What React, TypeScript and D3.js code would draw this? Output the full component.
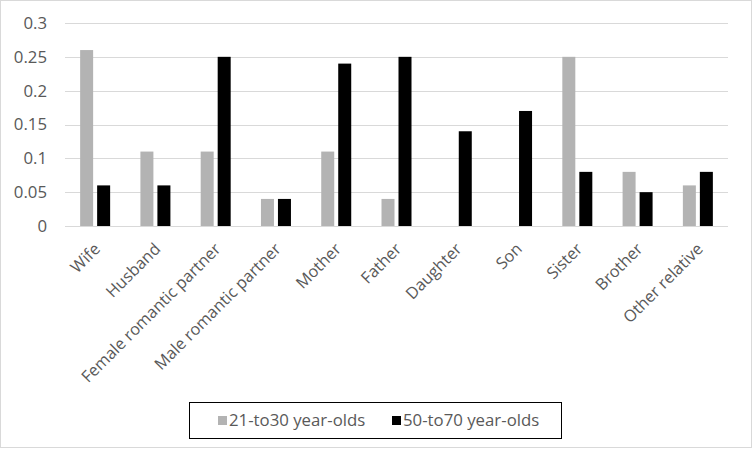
import React from "react";
import * as d3 from "d3";

const categories = ["Wife", "Husband", "Female romantic partner", "Male romantic partner", "Mother", "Father", "Daughter", "Son", "Sister", "Brother", "Other relative"];
const young = [0.26, 0.11, 0.11, 0.04, 0.11, 0.04, 0, 0, 0.25, 0.08, 0.06];
const old = [0.06, 0.06, 0.25, 0.04, 0.24, 0.25, 0.14, 0.17, 0.08, 0.05, 0.08];
const seriesNames = ["21-to30 year-olds", "50-to70 year-olds"];
const yTicks = [0, 0.05, 0.1, 0.15, 0.2, 0.25, 0.3];

const W = 752, H = 451;
const left = 65, right = 728, top = 23, bottom = 226;
const font = "'Open Sans', Lato, sans-serif";
const textColor = "#595959";
const colors = ["#b3b3b3", "#000000"];
const fs = 16.8;
const fsX = 16.3;

export default function App() {
  const x = d3.scaleBand<string>().domain(categories).range([left, right]).paddingInner(0).paddingOuter(0);
  const y = d3.scaleLinear().domain([0, 0.3]).range([bottom, top]);
  const bw = 13, gap = 4;
  const fmt = (v: number) => (v === 0 ? "0" : String(+v.toFixed(2)));
  return (
    <svg width={W} height={H} style={{ position: "absolute", left: 0, top: 0, background: "#fff" }} fontFamily={font}>
      <rect x={0.5} y={0.5} width={W - 1} height={H - 4} fill="#fff" stroke="#d9d9d9" />
      {yTicks.map((t) => (
        <g key={t}>
          <line x1={left} x2={right} y1={Math.round(y(t)) + 0.5} y2={Math.round(y(t)) + 0.5} stroke="#d9d9d9" strokeWidth={1} />
          <text x={47} y={y(t)} dy="0.35em" textAnchor="end" fontSize={fs} fill={textColor}>{fmt(t)}</text>
        </g>
      ))}
      {categories.map((c, i) => {
        const cx = (x(c) as number) + x.bandwidth() / 2;
        return (
          <g key={c}>
            {young[i] > 0 && (
              <rect x={cx - gap / 2 - bw} y={y(young[i])} width={bw} height={y(0) - y(young[i])} fill={colors[0]} />
            )}
            {old[i] > 0 && (
              <rect x={cx + gap / 2} y={y(old[i])} width={bw} height={y(0) - y(old[i])} fill={colors[1]} />
            )}
            <text transform={`translate(${cx + 2},${bottom + 20}) rotate(-45)`} textAnchor="end" dy="0.35em" fontSize={fsX} fill={textColor}>{c}</text>
          </g>
        );
      })}
      <rect x={189.5} y={402.5} width={372} height={36} fill="#fff" stroke="#000" strokeWidth={1} />
      <rect x={218} y={416} width={9} height={9} fill={colors[0]} />
      <text x={229} y={420.5} dy="0.35em" fontSize={fs} fill={textColor}>{seriesNames[0]}</text>
      <rect x={392} y={416} width={9} height={9} fill={colors[1]} />
      <text x={403} y={420.5} dy="0.35em" fontSize={fs} fill={textColor}>{seriesNames[1]}</text>
    </svg>
  );
}
